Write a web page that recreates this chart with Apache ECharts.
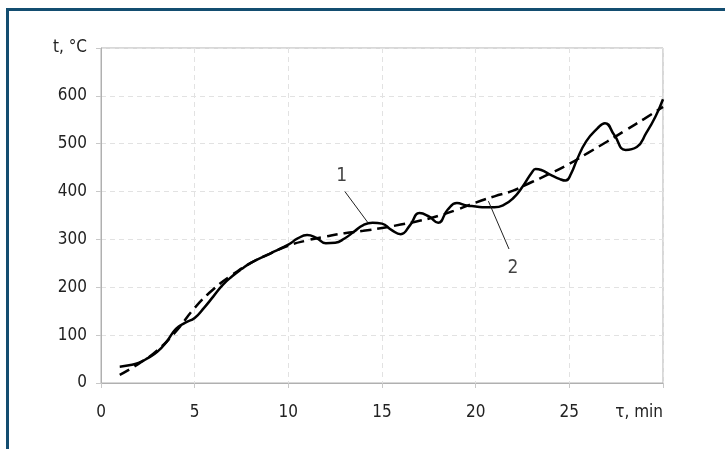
<!DOCTYPE html>
<html>
<head>
<meta charset="utf-8">
<script src="https://cdn.jsdelivr.net/npm/echarts@6/dist/echarts.min.js"></script>
<style>
  html, body { margin: 0; padding: 0; background: #fff; }
  #chart { width: 725px; height: 449px; }
</style>
</head>
<body>
<div id="chart"></div>
<script>
// Heating curve 1 (measured) and curve 2 (smoothed), temperature vs time
const measured = [
  [1, 34], [1.5, 37], [2, 42], [2.5, 52], [3, 65], [3.5, 86], [4, 113], [4.5, 126],
  [5, 136], [5.5, 157], [6, 181], [6.5, 205], [7, 223], [7.5, 238], [8, 251], [9, 270],
  [10, 289], [10.5, 302], [11, 309], [11.5, 303], [12, 292], [12.5, 293], [13, 302],
  [13.5, 316], [14, 330], [14.5, 335], [15, 333], [15.5, 320], [16, 311], [16.5, 330],
  [17, 355], [17.5, 348], [18, 335], [18.5, 362], [19, 376], [19.5, 371], [20, 369],
  [20.5, 367], [21, 367], [21.5, 372], [22, 386], [22.5, 410], [23, 440], [23.2, 447],
  [23.5, 445], [24, 435], [24.5, 426], [24.8, 423], [25.1, 438], [25.4, 466], [25.9, 505],
  [26.5, 532], [26.9, 543], [27.4, 518], [28, 487], [28.6, 493], [29.1, 522], [29.6, 557],
  [30, 593]
];
const smoothed = [
  [1, 17], [2, 40], [3, 68], [4, 108], [5, 157], [6, 196], [7, 226], [8, 251], [9, 270],
  [10, 287], [11, 298], [12, 306], [13, 313], [14, 318], [15, 324], [16, 331], [17, 339],
  [18, 349], [19, 362], [20, 377], [21, 390], [22, 402], [23, 420], [24, 438], [25, 458],
  [26, 481], [27, 504], [28, 528], [29, 552], [30, 577]
];
// Callout leaders and their numbers
const leader1 = [[13.02, 400], [14.25, 335]];
const leader2 = [[20.68, 380], [21.78, 280]];
const calloutLabels = [
  { value: [12.85, 433], text: '1' },
  { value: [21.99, 240], text: '2' }
];
const xTicks = { min: 0, max: 30, step: 5 };
const yTicks = { min: 0, max: 700, step: 100 };
const xAxisTitle = 'τ, min';
const yAxisTitle = 't, °C';

const FONT = "'DejaVu Sans Condensed', Roboto, sans-serif";
const chart = echarts.init(document.getElementById('chart'), null, { renderer: 'canvas' });

chart.setOption({
  animation: false,
  backgroundColor: '#fff',
  graphic: [{
    type: 'rect',
    shape: { x: 7.5, y: 9.5, width: 800, height: 500 },
    style: { fill: 'none', stroke: '#134d70', lineWidth: 3 },
    silent: true
  }],
  grid: {
    left: 101, right: 62, top: 48, bottom: 66,
    show: true, borderColor: '#b0b0b0', borderWidth: 1, backgroundColor: 'transparent'
  },
  xAxis: {
    type: 'value',
    min: xTicks.min, max: xTicks.max, interval: xTicks.step,
    name: xAxisTitle,
    nameLocation: 'end',
    nameGap: 0,
    nameTextStyle: {
      fontFamily: FONT, fontSize: 17, color: '#222',
      align: 'right', verticalAlign: 'top', padding: [21, 0, 0, 0]
    },
    axisLine: { show: true, lineStyle: { color: '#b0b0b0', width: 1 } },
    axisTick: { show: true, length: 5, lineStyle: { color: '#c8c8c8' } },
    axisLabel: {
      margin: 21, fontFamily: FONT, fontSize: 17, color: '#222',
      formatter: v => (v === xTicks.max ? '' : String(v))
    },
    splitLine: { show: true, lineStyle: { color: '#e2e2e2', type: [5, 4], width: 1 } }
  },
  yAxis: {
    type: 'value',
    min: yTicks.min, max: yTicks.max, interval: yTicks.step,
    axisLine: { show: true, lineStyle: { color: '#b0b0b0', width: 1 } },
    axisTick: { show: true, length: 5, lineStyle: { color: '#c8c8c8' } },
    axisLabel: {
      margin: 14, fontFamily: FONT, fontSize: 17, color: '#222',
      formatter: v => (v === yTicks.max ? yAxisTitle : String(v))
    },
    splitLine: { show: true, lineStyle: { color: '#e2e2e2', type: [5, 4], width: 1 } }
  },
  series: [
    {
      name: '2', type: 'line', data: smoothed, smooth: 0.5, symbol: 'none',
      lineStyle: { color: '#000', width: 2.5, type: [11, 6] }, z: 3
    },
    {
      name: '1', type: 'line', data: measured, smooth: 0.5, symbol: 'none',
      lineStyle: { color: '#000', width: 2.5 }, z: 4
    },
    {
      type: 'line', data: leader1, symbol: 'none',
      lineStyle: { color: '#222', width: 1 }, z: 5
    },
    {
      type: 'line', data: leader2, symbol: 'none',
      lineStyle: { color: '#222', width: 1 }, z: 5
    },
    {
      type: 'scatter', symbolSize: 0, z: 6,
      data: calloutLabels.map(d => ({ value: d.value, name: d.text })),
      label: {
        show: true, position: 'inside', formatter: p => p.name,
        fontFamily: FONT, fontSize: 19, color: '#111'
      }
    }
  ]
});
</script>
</body>
</html>
